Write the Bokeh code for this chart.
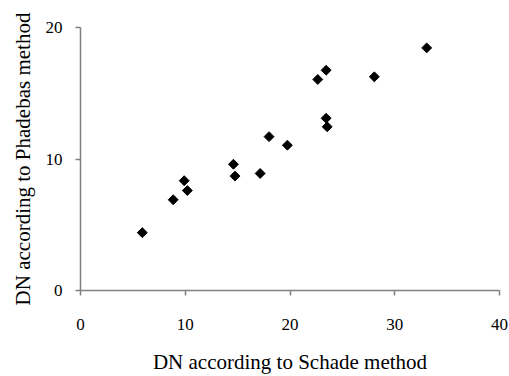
import math
from bokeh.plotting import figure
from bokeh.models import Range1d, FixedTicker
from bokeh.embed import file_html
from bokeh.resources import INLINE

# Data
schade = [5.9, 8.85, 9.9, 10.2, 14.6, 14.75, 17.15, 18.0, 19.75, 22.65, 23.45, 23.45, 23.55, 28.05, 33.05]
phadebas = [4.4, 6.9, 8.35, 7.6, 9.6, 8.7, 8.9, 11.7, 11.05, 16.05, 16.75, 13.1, 12.45, 16.25, 18.45]
x_ticks = [0, 10, 20, 30, 40]
y_ticks = [0, 10, 20]

FONT = "Liberation Serif"

p = figure(width=509, height=376, output_backend="svg", toolbar_location=None,
           x_range=Range1d(0, 40), y_range=Range1d(0, 20),
           min_border_left=80, min_border_right=10, min_border_top=27, min_border_bottom=86)
p.outline_line_color = None
p.grid.grid_line_color = None
p.background_fill_color = "white"
p.border_fill_color = "white"

p.scatter(schade, phadebas, marker="square", size=7, angle=math.pi / 4,
          fill_color="black", line_color="black")

for ax in (p.xaxis[0], p.yaxis[0]):
    ax.axis_line_color = "#808080"
    ax.axis_line_width = 1.5
    ax.major_tick_line_color = "#808080"
    ax.major_tick_line_width = 1.5
    ax.major_tick_in = 0
    ax.major_tick_out = 5
    ax.minor_tick_line_color = None
    ax.major_label_text_font = FONT
    ax.major_label_text_font_size = "17px"
    ax.major_label_text_color = "black"
    ax.axis_label_text_font = FONT
    ax.axis_label_text_font_size = "21px"
    ax.axis_label_text_font_style = "normal"
    ax.axis_label_text_color = "black"

p.xaxis.ticker = FixedTicker(ticks=x_ticks)
p.yaxis.ticker = FixedTicker(ticks=y_ticks)
p.xaxis.axis_label = "DN according to Schade method"
p.yaxis.axis_label = "DN according to Phadebas method"
p.xaxis.major_label_standoff = 23
p.xaxis.axis_label_standoff = 17
p.yaxis.major_label_standoff = 13
p.yaxis.axis_label_standoff = 8

open("out.html", "w").write(file_html(p, INLINE))
